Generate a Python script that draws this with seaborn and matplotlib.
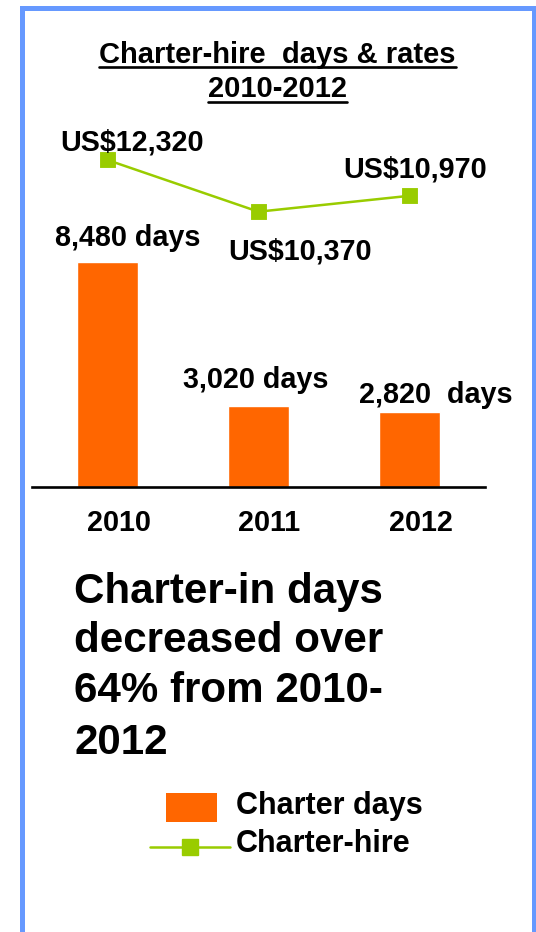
import numpy as np
import pandas as pd
import matplotlib
matplotlib.use("Agg")
import matplotlib.pyplot as plt
import seaborn as sns
from matplotlib.lines import Line2D
from matplotlib.patches import Patch, Rectangle
from matplotlib.legend_handler import HandlerPatch, HandlerLine2D
from matplotlib.transforms import ScaledTranslation

# data
years = ["2010", "2011", "2012"]
charter_days = [8480, 3020, 2820]
hire_rates = [12320, 10370, 10970]
day_labels = ["8,480 days", "3,020 days", "2,820  days"]
rate_labels = ["US$12,320", "US$10,370", "US$10,970"]

ORANGE = "#FF6600"
GREEN = "#99CC00"
BLUE = "#6699FF"

W, H = 536, 932

sns.set_theme(style="white")
plt.rcParams["font.family"] = ["Liberation Sans", "DejaVu Sans"]
plt.rcParams["font.weight"] = "bold"
plt.rcParams["text.color"] = "black"
plt.rcParams["xtick.color"] = "black"
plt.rcParams["xtick.labelcolor"] = "black"


def px(x, y):
    # figure pixel (from top-left) -> figure fraction
    return x / W, 1 - y / H


df = pd.DataFrame({"year": years, "days": charter_days, "rate": hire_rates})

fig = plt.figure(figsize=(W / 100, H / 100), dpi=100)
ax = fig.add_axes([32 / W, 1 - 486.5 / H, 453 / W, 371 / H])

sns.barplot(data=df, x="year", y="days", color=ORANGE, saturation=1,
            width=0.4, errorbar=None, ax=ax)
sns.pointplot(data=df, x="year", y="rate", color=GREEN, markers="s",
              linestyles="-", errorbar=None, markersize=9.5, linewidth=1.8,
              ax=ax)

ax.set_xlim(-0.5, 2.5)
ax.set_ylim(0, 371 / 0.0265)
ax.set_xlabel("")
ax.set_ylabel("")
ax.set_yticks([])
for s in ["left", "right", "top"]:
    ax.spines[s].set_visible(False)
ax.spines["bottom"].set_color("black")
ax.spines["bottom"].set_linewidth(1.9)
ax.tick_params(axis="x", length=0, pad=16, labelsize=20.7, labelcolor="black")
for lbl in ax.get_xticklabels():
    lbl.set_fontweight("bold")
    lbl.set_transform(lbl.get_transform() + ScaledTranslation(0.11, 0, fig.dpi_scale_trans))

# value labels
day_offsets = [(20, 16), (-2.5, 18), (26, 9)]
for i, (v, t) in enumerate(zip(charter_days, day_labels)):
    ax.annotate(t, (i, v), xytext=day_offsets[i], textcoords="offset pixels",
                ha="center", va="baseline", fontsize=20.7, fontweight="bold",
                color="black")
rate_offsets = [(24, 10), (41, -48), (5.5, 18)]
for i, (v, t) in enumerate(zip(hire_rates, rate_labels)):
    ax.annotate(t, (i, v), xytext=rate_offsets[i], textcoords="offset pixels",
                ha="center", va="baseline", fontsize=20.7, fontweight="bold",
                color="black")

# title with underline
t1 = fig.text(*px(277.5, 63), "Charter-hire  days & rates", ha="center",
              va="baseline", fontsize=21, fontweight="bold", color="black")
t2 = fig.text(*px(277.5, 97), "2010-2012", ha="center", va="baseline",
              fontsize=21, fontweight="bold", color="black")

# big statement
for line, yb in zip(["Charter-in days", "decreased over", "64% from 2010-", "2012"],
                    [603, 652, 702, 754]):
    fig.text(*px(74, yb), line, ha="left", va="baseline", fontsize=30.3,
             fontweight="bold", color="black")


# legend
def small_box(legend, orig_handle, xdescent, ydescent, width, height, fontsize):
    w, h = 36.7, 20.9
    return Rectangle((-xdescent + 11.5, -ydescent + (height - h) / 2 - 2.9), w, h)


class LowLine(HandlerLine2D):
    # draws the legend line a few points lower than centre
    def create_artists(self, *args, **kwargs):
        arts = super().create_artists(*args, **kwargs)
        for a in arts:
            a.set_ydata(np.asarray(a.get_ydata()) - 5)
        return arts


handles = [Patch(facecolor=ORANGE, edgecolor="none"),
           Line2D([], [], color=GREEN, lw=1.8, marker="s", markersize=12)]
fig.legend(handles, ["Charter days", "Charter-hire"], loc="upper left",
           bbox_to_anchor=px(150, 790), frameon=False, borderpad=0,
           borderaxespad=0, handlelength=2.62, handleheight=0.95,
           handletextpad=0.2, labelspacing=0.26,
           prop={"size": 22, "weight": "bold"}, labelcolor="black",
           handler_map={Patch: HandlerPatch(patch_func=small_box),
                        Line2D: LowLine()})

# blue frame, open at the bottom
fig.add_artist(Rectangle(px(21.5, 960), (533.5 - 21.5) / W, (960 - 7.5) / H,
                         transform=fig.transFigure, fill=False,
                         edgecolor=BLUE, linewidth=3.6))

fig.canvas.draw()
r = fig.canvas.get_renderer()
for t, yl in [(t1, 66.5), (t2, 101.7)]:
    bb = t.get_window_extent(r)
    fig.add_artist(Line2D([bb.x0 / W, bb.x1 / W], [1 - yl / H] * 2,
                          transform=fig.transFigure, color="black", lw=1.9))

fig.savefig("out.png", dpi=100)
